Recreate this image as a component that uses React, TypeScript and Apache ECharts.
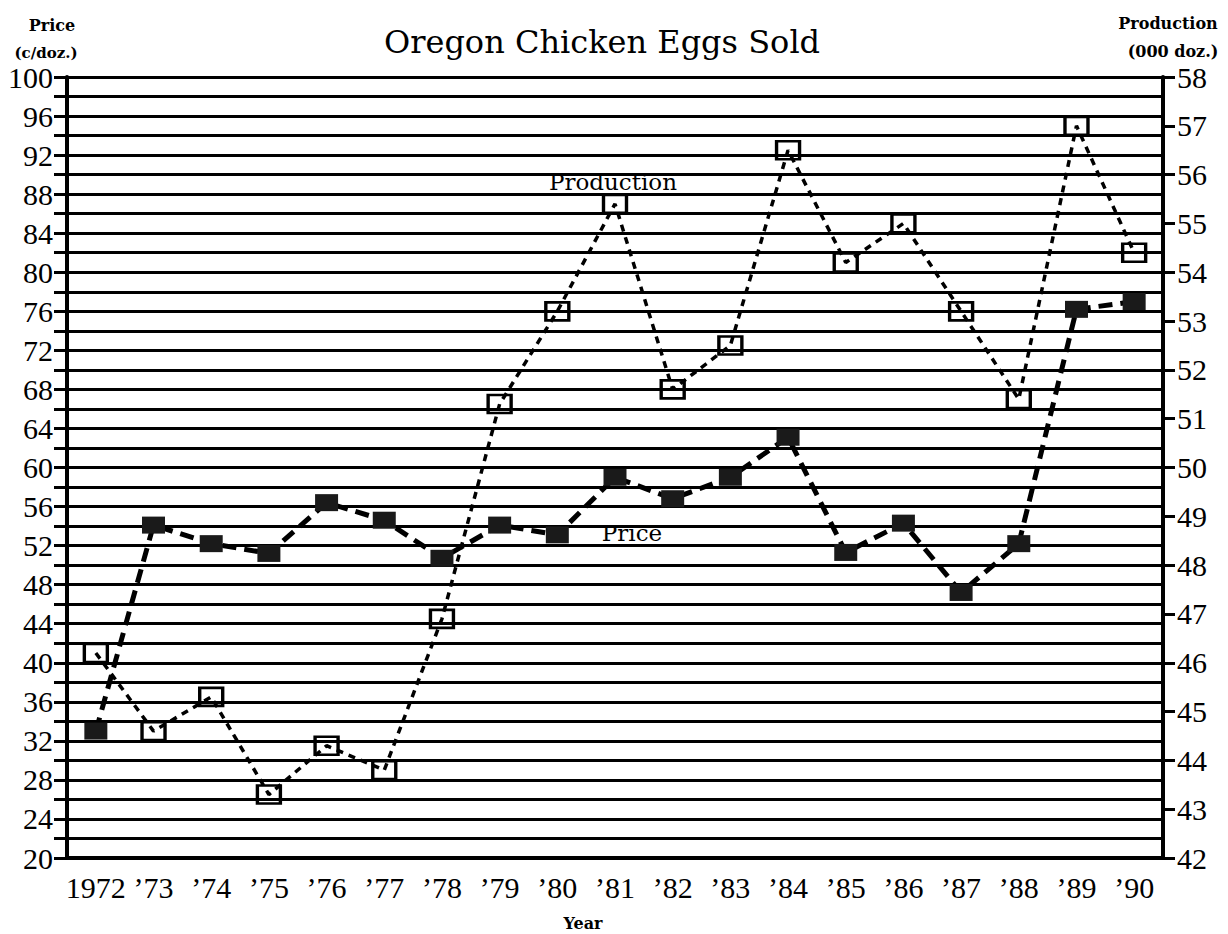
import React, { useEffect, useRef } from "react";
import * as echarts from "echarts";

const years = ["1972", "\u201973", "\u201974", "\u201975", "\u201976", "\u201977", "\u201978", "\u201979", "\u201980", "\u201981", "\u201982", "\u201983", "\u201984", "\u201985", "\u201986", "\u201987", "\u201988", "\u201989", "\u201990"];
const price = [33, 54.1, 52.2, 51.2, 56.4, 54.6, 50.7, 54.1, 53.1, 59, 56.8, 59, 63.1, 51.3, 54.3, 47.2, 52.2, 76.2, 77];
const production = [46.2, 44.6, 45.3, 43.3, 44.3, 43.8, 46.9, 51.3, 53.2, 55.4, 51.6, 52.5, 56.5, 54.2, 55.0, 53.2, 51.4, 57.0, 54.4];

const titleText = "Oregon Chicken Eggs Sold";
const leftAxisTitle = ["Price", "(c/doz.)"];
const rightAxisTitle = ["Production", "(000 doz.)"];
const xAxisTitle = "Year";

export default function App() {
  const ref = useRef<HTMLDivElement>(null);
  useEffect(() => {
    if (!ref.current) return;
    const chart = echarts.init(ref.current, null, { renderer: "svg" });
    const tickFont = { fontFamily: "Liberation Serif", fontSize: 30, color: "#000" };
    chart.setOption({
      animation: false,
      backgroundColor: "#fff",
      grid: { left: 67, right: 65, top: 77, bottom: 76, containLabel: false },
      xAxis: {
        type: "category",
        data: years,
        boundaryGap: true,
        axisLine: { lineStyle: { color: "#000", width: 4 } },
        axisTick: { alignWithLabel: true, length: 12, lineStyle: { color: "#000", width: 3 } },
        axisLabel: { ...tickFont, margin: 14, interval: 0 },
        splitLine: { show: false },
      },
      yAxis: [
        {
          type: "value",
          min: 20,
          max: 100,
          interval: 2,
          position: "left",
          axisLine: { show: true, lineStyle: { color: "#000", width: 4 } },
          axisTick: { show: true, length: 13, lineStyle: { color: "#000", width: 3 } },
          axisLabel: {
            ...tickFont,
            margin: 14,
            formatter: (v: number) => (v % 4 === 0 ? String(v) : ""),
          },
          splitLine: { show: true, lineStyle: { color: "#000", width: 3 } },
        },
        {
          type: "value",
          min: 42,
          max: 58,
          interval: 1,
          position: "right",
          axisLine: { show: true, lineStyle: { color: "#000", width: 4 } },
          axisTick: { show: true, length: 12, lineStyle: { color: "#000", width: 3 } },
          axisLabel: { ...tickFont, margin: 14 },
          splitLine: { show: false },
        },
      ],
      graphic: [
        {
          type: "text",
          x: 602,
          y: 42,
          style: { text: titleText, font: "32px 'DejaVu Serif'", fill: "#000", textAlign: "center", textVerticalAlign: "middle" },
        },
        {
          type: "text",
          x: 52,
          y: 25,
          style: { text: leftAxisTitle[0], font: "bold 16px 'DejaVu Serif'", fill: "#000", textAlign: "center", textVerticalAlign: "middle" },
        },
        {
          type: "text",
          x: 46,
          y: 53,
          style: { text: leftAxisTitle[1], font: "bold 15px 'DejaVu Serif'", fill: "#000", textAlign: "center", textVerticalAlign: "middle" },
        },
        {
          type: "text",
          x: 1168,
          y: 23,
          style: { text: rightAxisTitle[0], font: "bold 16px 'DejaVu Serif'", fill: "#000", textAlign: "center", textVerticalAlign: "middle" },
        },
        {
          type: "text",
          x: 1173,
          y: 51,
          style: { text: rightAxisTitle[1], font: "bold 16px 'DejaVu Serif'", fill: "#000", textAlign: "center", textVerticalAlign: "middle" },
        },
        {
          type: "text",
          x: 583,
          y: 923,
          style: { text: xAxisTitle, font: "bold 16px 'DejaVu Serif'", fill: "#000", textAlign: "center", textVerticalAlign: "middle" },
        },
        {
          type: "text",
          x: 613,
          y: 182,
          style: { text: "Production", font: "23px 'DejaVu Serif'", fill: "#000", textAlign: "center", textVerticalAlign: "middle", backgroundColor: "#fff" },
        },
        {
          type: "text",
          x: 632,
          y: 533,
          style: { text: "Price", font: "23px 'DejaVu Serif'", fill: "#000", textAlign: "center", textVerticalAlign: "middle", backgroundColor: "#fff" },
        },
      ],
      series: [
        {
          name: "Price",
          type: "line",
          yAxisIndex: 0,
          data: price,
          symbol: "rect",
          symbolSize: [23, 17],
          showAllSymbol: true,
          lineStyle: { color: "#000", width: 5, type: [14, 8] },
          itemStyle: { color: "#1a1a1a", borderWidth: 0 },
          z: 3,
        },
        {
          name: "Production",
          type: "line",
          yAxisIndex: 1,
          data: production,
          symbol: "rect",
          symbolSize: [23, 18],
          showAllSymbol: true,
          lineStyle: { color: "#000", width: 3.5, type: [7, 6] },
          itemStyle: { color: "rgba(255,255,255,0)", borderColor: "#000", borderWidth: 3 },
          z: 4,
        },
      ],
    });
    return () => chart.dispose();
  }, []);
  return <div ref={ref} style={{ position: "absolute", left: 0, top: 0, width: 1228, height: 934 }} />;
}
